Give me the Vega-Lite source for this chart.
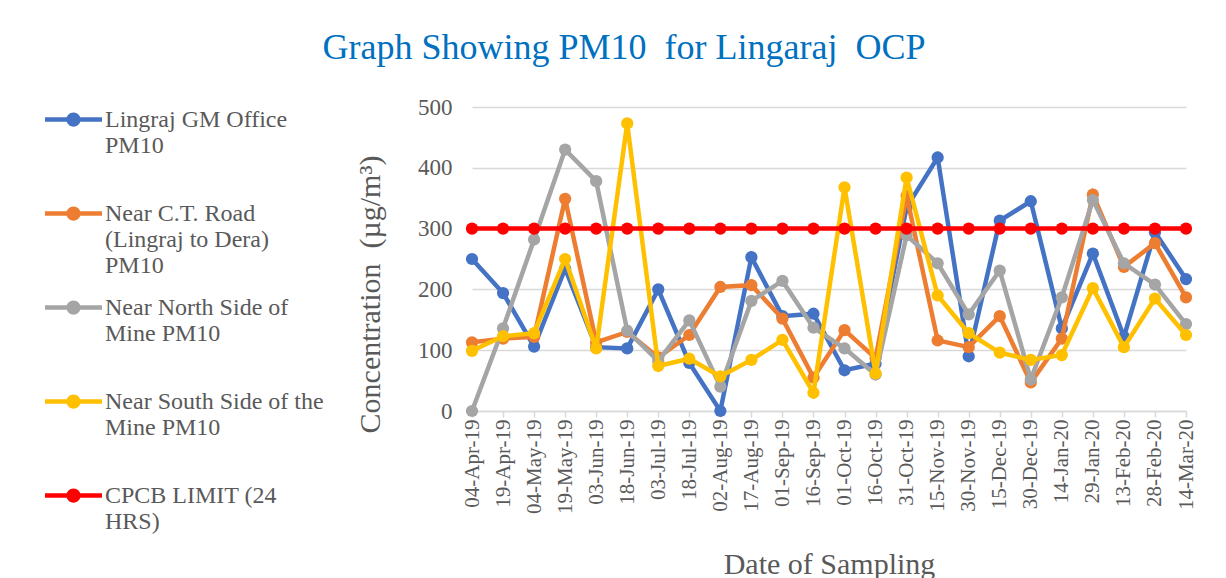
{
"$schema": "https://vega.github.io/schema/vega-lite/v6.json",
"width": 714, "height": 304,
"autosize": {"type": "none"},
"padding": {"left": 472, "top": 107, "right": 40, "bottom": 167},
"background": "white",
"config": {"font": "Liberation Serif", "view": {"stroke": null}},
"title": {"text": "Graph Showing PM10\u00a0 for Lingaraj\u00a0 OCP", "fontSize": 36, "font": "Liberation Serif", "fontWeight": "normal", "color": "#0070C0", "anchor": "middle", "frame": "group", "dx": -205, "offset": -4, "baseline": "alphabetic"},
"data": {"values": [
{"date":"04-Apr-19","site":"Lingraj GM Office PM10","value":250},{"date":"19-Apr-19","site":"Lingraj GM Office PM10","value":194},{"date":"04-May-19","site":"Lingraj GM Office PM10","value":106},{"date":"19-May-19","site":"Lingraj GM Office PM10","value":234},{"date":"03-Jun-19","site":"Lingraj GM Office PM10","value":105},{"date":"18-Jun-19","site":"Lingraj GM Office PM10","value":103},{"date":"03-Jul-19","site":"Lingraj GM Office PM10","value":200},{"date":"18-Jul-19","site":"Lingraj GM Office PM10","value":79},{"date":"02-Aug-19","site":"Lingraj GM Office PM10","value":0},{"date":"17-Aug-19","site":"Lingraj GM Office PM10","value":253},{"date":"01-Sep-19","site":"Lingraj GM Office PM10","value":156},{"date":"16-Sep-19","site":"Lingraj GM Office PM10","value":160},{"date":"01-Oct-19","site":"Lingraj GM Office PM10","value":67},{"date":"16-Oct-19","site":"Lingraj GM Office PM10","value":78},{"date":"31-Oct-19","site":"Lingraj GM Office PM10","value":335},{"date":"15-Nov-19","site":"Lingraj GM Office PM10","value":417},{"date":"30-Nov-19","site":"Lingraj GM Office PM10","value":90},{"date":"15-Dec-19","site":"Lingraj GM Office PM10","value":313},{"date":"30-Dec-19","site":"Lingraj GM Office PM10","value":345},{"date":"14-Jan-20","site":"Lingraj GM Office PM10","value":136},{"date":"29-Jan-20","site":"Lingraj GM Office PM10","value":259},{"date":"13-Feb-20","site":"Lingraj GM Office PM10","value":122},{"date":"28-Feb-20","site":"Lingraj GM Office PM10","value":294},{"date":"14-Mar-20","site":"Lingraj GM Office PM10","value":217},
{"date":"04-Apr-19","site":"Near C.T. Road (Lingraj to Dera) PM10","value":113},{"date":"19-Apr-19","site":"Near C.T. Road (Lingraj to Dera) PM10","value":119},{"date":"04-May-19","site":"Near C.T. Road (Lingraj to Dera) PM10","value":122},{"date":"19-May-19","site":"Near C.T. Road (Lingraj to Dera) PM10","value":349},{"date":"03-Jun-19","site":"Near C.T. Road (Lingraj to Dera) PM10","value":113},{"date":"18-Jun-19","site":"Near C.T. Road (Lingraj to Dera) PM10","value":130},{"date":"03-Jul-19","site":"Near C.T. Road (Lingraj to Dera) PM10","value":88},{"date":"18-Jul-19","site":"Near C.T. Road (Lingraj to Dera) PM10","value":125},{"date":"02-Aug-19","site":"Near C.T. Road (Lingraj to Dera) PM10","value":204},{"date":"17-Aug-19","site":"Near C.T. Road (Lingraj to Dera) PM10","value":207},{"date":"01-Sep-19","site":"Near C.T. Road (Lingraj to Dera) PM10","value":152},{"date":"16-Sep-19","site":"Near C.T. Road (Lingraj to Dera) PM10","value":55},{"date":"01-Oct-19","site":"Near C.T. Road (Lingraj to Dera) PM10","value":133},{"date":"16-Oct-19","site":"Near C.T. Road (Lingraj to Dera) PM10","value":87},{"date":"31-Oct-19","site":"Near C.T. Road (Lingraj to Dera) PM10","value":354},{"date":"15-Nov-19","site":"Near C.T. Road (Lingraj to Dera) PM10","value":116},{"date":"30-Nov-19","site":"Near C.T. Road (Lingraj to Dera) PM10","value":105},{"date":"15-Dec-19","site":"Near C.T. Road (Lingraj to Dera) PM10","value":156},{"date":"30-Dec-19","site":"Near C.T. Road (Lingraj to Dera) PM10","value":47},{"date":"14-Jan-20","site":"Near C.T. Road (Lingraj to Dera) PM10","value":119},{"date":"29-Jan-20","site":"Near C.T. Road (Lingraj to Dera) PM10","value":356},{"date":"13-Feb-20","site":"Near C.T. Road (Lingraj to Dera) PM10","value":237},{"date":"28-Feb-20","site":"Near C.T. Road (Lingraj to Dera) PM10","value":276},{"date":"14-Mar-20","site":"Near C.T. Road (Lingraj to Dera) PM10","value":187},
{"date":"04-Apr-19","site":"Near North Side of Mine PM10","value":0},{"date":"19-Apr-19","site":"Near North Side of Mine PM10","value":136},{"date":"04-May-19","site":"Near North Side of Mine PM10","value":282},{"date":"19-May-19","site":"Near North Side of Mine PM10","value":430},{"date":"03-Jun-19","site":"Near North Side of Mine PM10","value":378},{"date":"18-Jun-19","site":"Near North Side of Mine PM10","value":132},{"date":"03-Jul-19","site":"Near North Side of Mine PM10","value":82},{"date":"18-Jul-19","site":"Near North Side of Mine PM10","value":149},{"date":"02-Aug-19","site":"Near North Side of Mine PM10","value":40},{"date":"17-Aug-19","site":"Near North Side of Mine PM10","value":181},{"date":"01-Sep-19","site":"Near North Side of Mine PM10","value":214},{"date":"16-Sep-19","site":"Near North Side of Mine PM10","value":137},{"date":"01-Oct-19","site":"Near North Side of Mine PM10","value":103},{"date":"16-Oct-19","site":"Near North Side of Mine PM10","value":60},{"date":"31-Oct-19","site":"Near North Side of Mine PM10","value":289},{"date":"15-Nov-19","site":"Near North Side of Mine PM10","value":243},{"date":"30-Nov-19","site":"Near North Side of Mine PM10","value":159},{"date":"15-Dec-19","site":"Near North Side of Mine PM10","value":231},{"date":"30-Dec-19","site":"Near North Side of Mine PM10","value":52},{"date":"14-Jan-20","site":"Near North Side of Mine PM10","value":187},{"date":"29-Jan-20","site":"Near North Side of Mine PM10","value":347},{"date":"13-Feb-20","site":"Near North Side of Mine PM10","value":243},{"date":"28-Feb-20","site":"Near North Side of Mine PM10","value":208},{"date":"14-Mar-20","site":"Near North Side of Mine PM10","value":143},
{"date":"04-Apr-19","site":"Near South Side of the Mine PM10","value":99},{"date":"19-Apr-19","site":"Near South Side of the Mine PM10","value":123},{"date":"04-May-19","site":"Near South Side of the Mine PM10","value":128},{"date":"19-May-19","site":"Near South Side of the Mine PM10","value":250},{"date":"03-Jun-19","site":"Near South Side of the Mine PM10","value":103},{"date":"18-Jun-19","site":"Near South Side of the Mine PM10","value":473},{"date":"03-Jul-19","site":"Near South Side of the Mine PM10","value":74},{"date":"18-Jul-19","site":"Near South Side of the Mine PM10","value":86},{"date":"02-Aug-19","site":"Near South Side of the Mine PM10","value":57},{"date":"17-Aug-19","site":"Near South Side of the Mine PM10","value":84},{"date":"01-Sep-19","site":"Near South Side of the Mine PM10","value":117},{"date":"16-Sep-19","site":"Near South Side of the Mine PM10","value":30},{"date":"01-Oct-19","site":"Near South Side of the Mine PM10","value":368},{"date":"16-Oct-19","site":"Near South Side of the Mine PM10","value":62},{"date":"31-Oct-19","site":"Near South Side of the Mine PM10","value":384},{"date":"15-Nov-19","site":"Near South Side of the Mine PM10","value":190},{"date":"30-Nov-19","site":"Near South Side of the Mine PM10","value":128},{"date":"15-Dec-19","site":"Near South Side of the Mine PM10","value":96},{"date":"30-Dec-19","site":"Near South Side of the Mine PM10","value":84},{"date":"14-Jan-20","site":"Near South Side of the Mine PM10","value":92},{"date":"29-Jan-20","site":"Near South Side of the Mine PM10","value":202},{"date":"13-Feb-20","site":"Near South Side of the Mine PM10","value":105},{"date":"28-Feb-20","site":"Near South Side of the Mine PM10","value":185},{"date":"14-Mar-20","site":"Near South Side of the Mine PM10","value":125},
{"date":"04-Apr-19","site":"CPCB LIMIT (24 HRS)","value":300},{"date":"19-Apr-19","site":"CPCB LIMIT (24 HRS)","value":300},{"date":"04-May-19","site":"CPCB LIMIT (24 HRS)","value":300},{"date":"19-May-19","site":"CPCB LIMIT (24 HRS)","value":300},{"date":"03-Jun-19","site":"CPCB LIMIT (24 HRS)","value":300},{"date":"18-Jun-19","site":"CPCB LIMIT (24 HRS)","value":300},{"date":"03-Jul-19","site":"CPCB LIMIT (24 HRS)","value":300},{"date":"18-Jul-19","site":"CPCB LIMIT (24 HRS)","value":300},{"date":"02-Aug-19","site":"CPCB LIMIT (24 HRS)","value":300},{"date":"17-Aug-19","site":"CPCB LIMIT (24 HRS)","value":300},{"date":"01-Sep-19","site":"CPCB LIMIT (24 HRS)","value":300},{"date":"16-Sep-19","site":"CPCB LIMIT (24 HRS)","value":300},{"date":"01-Oct-19","site":"CPCB LIMIT (24 HRS)","value":300},{"date":"16-Oct-19","site":"CPCB LIMIT (24 HRS)","value":300},{"date":"31-Oct-19","site":"CPCB LIMIT (24 HRS)","value":300},{"date":"15-Nov-19","site":"CPCB LIMIT (24 HRS)","value":300},{"date":"30-Nov-19","site":"CPCB LIMIT (24 HRS)","value":300},{"date":"15-Dec-19","site":"CPCB LIMIT (24 HRS)","value":300},{"date":"30-Dec-19","site":"CPCB LIMIT (24 HRS)","value":300},{"date":"14-Jan-20","site":"CPCB LIMIT (24 HRS)","value":300},{"date":"29-Jan-20","site":"CPCB LIMIT (24 HRS)","value":300},{"date":"13-Feb-20","site":"CPCB LIMIT (24 HRS)","value":300},{"date":"28-Feb-20","site":"CPCB LIMIT (24 HRS)","value":300},{"date":"14-Mar-20","site":"CPCB LIMIT (24 HRS)","value":300}
]},
"encoding": {
  "x": {"field": "date", "type": "ordinal", "sort": null,
    "scale": {"type": "point", "padding": 0, "domain": ["04-Apr-19","19-Apr-19","04-May-19","19-May-19","03-Jun-19","18-Jun-19","03-Jul-19","18-Jul-19","02-Aug-19","17-Aug-19","01-Sep-19","16-Sep-19","01-Oct-19","16-Oct-19","31-Oct-19","15-Nov-19","30-Nov-19","15-Dec-19","30-Dec-19","14-Jan-20","29-Jan-20","13-Feb-20","28-Feb-20","14-Mar-20"]},
    "axis": {"title": "Date of Sampling", "labelAngle": -90, "labelFont": "Liberation Serif", "labelFontSize": 21, "labelColor": "#595959", "labelPadding": 2, "labelOverlap": false, "tickSize": 6, "tickColor": "#D9D9D9", "tickWidth": 1.5, "domainColor": "#D9D9D9", "domainWidth": 1.5, "grid": false, "titleFont": "Liberation Serif", "titleFontSize": 30, "titleFontWeight": "normal", "titleColor": "#595959", "titleY": 162, "titleBaseline": "alphabetic"}},
  "y": {"field": "value", "type": "quantitative", "scale": {"domain": [0, 500]},
    "axis": {"title": "Concentration\u00a0 (µg/m³)", "values": [0,100,200,300,400,500], "domain": false, "ticks": false, "labelPadding": 20, "labelFont": "Liberation Serif", "labelFontSize": 23, "labelColor": "#595959", "gridColor": "#D9D9D9", "gridWidth": 1.5, "titleFont": "Liberation Serif", "titleFontSize": 30, "titleFontWeight": "normal", "titleColor": "#595959", "titleX": -102, "titleY": 187, "titleAngle": -90, "titleBaseline": "middle", "titleAlign": "center"}}
},
"layer": [
 {"transform": [{"filter": "datum.site == 'Lingraj GM Office PM10'"}],
  "layer": [
   {"mark": {"type": "line", "strokeWidth": 4.5, "color": "#4472C4"}, "encoding": {}},
   {"mark": {"type": "point", "filled": true, "size": 150, "opacity": 1}, "encoding": {"color": {"field": "site", "type": "nominal", "scale": {"domain": ["Lingraj GM Office PM10","Near C.T. Road (Lingraj to Dera) PM10","Near North Side of Mine PM10","Near South Side of the Mine PM10","CPCB LIMIT (24 HRS)"], "range": ["#4472C4","#ED7D31","#A5A5A5","#FFC000","#FF0000"]},
     "legend": {"title": null, "orient": "none", "legendX": -427, "legendY": -16, "direction": "vertical", "symbolType": "M-1,-0.08L1,-0.08L1,0.08L-1,0.08Z M-0.25,0A0.25,0.25,0,1,1,0.25,0A0.25,0.25,0,1,1,-0.25,0Z", "symbolSize": 3249, "symbolStrokeWidth": 0, "symbolOpacity": 1, "labelFont": "Liberation Serif", "labelFontSize": 24, "labelColor": "#595959", "labelLimit": 400, "labelOffset": 3, "labelBaseline": "middle", "rowPadding": 1,
       "labelExpr": "datum.label == 'Lingraj GM Office PM10' ? ['Lingraj GM Office', 'PM10', ''] : datum.label == 'Near C.T. Road (Lingraj to Dera) PM10' ? ['Near C.T. Road', '(Lingraj to Dera)', 'PM10'] : datum.label == 'Near North Side of Mine PM10' ? ['Near North Side of', 'Mine PM10', ''] : datum.label == 'Near South Side of the Mine PM10' ? ['Near South Side of the', 'Mine PM10', ''] : ['CPCB LIMIT (24', 'HRS)', '']"}}}}
  ]},
 {"transform": [{"filter": "datum.site == 'Near C.T. Road (Lingraj to Dera) PM10'"}],
  "layer": [
   {"mark": {"type": "line", "strokeWidth": 4.5, "color": "#ED7D31"}, "encoding": {}},
   {"mark": {"type": "point", "filled": true, "size": 150, "opacity": 1}, "encoding": {"color": {"field": "site", "type": "nominal"}}}
  ]},
 {"transform": [{"filter": "datum.site == 'Near North Side of Mine PM10'"}],
  "layer": [
   {"mark": {"type": "line", "strokeWidth": 4.5, "color": "#A5A5A5"}, "encoding": {}},
   {"mark": {"type": "point", "filled": true, "size": 150, "opacity": 1}, "encoding": {"color": {"field": "site", "type": "nominal"}}}
  ]},
 {"transform": [{"filter": "datum.site == 'Near South Side of the Mine PM10'"}],
  "layer": [
   {"mark": {"type": "line", "strokeWidth": 4.5, "color": "#FFC000"}, "encoding": {}},
   {"mark": {"type": "point", "filled": true, "size": 150, "opacity": 1}, "encoding": {"color": {"field": "site", "type": "nominal"}}}
  ]},
 {"transform": [{"filter": "datum.site == 'CPCB LIMIT (24 HRS)'"}],
  "layer": [
   {"mark": {"type": "line", "strokeWidth": 4.5, "color": "#FF0000"}, "encoding": {}},
   {"mark": {"type": "point", "filled": true, "size": 150, "opacity": 1}, "encoding": {"color": {"field": "site", "type": "nominal"}}}
  ]}
]
}
